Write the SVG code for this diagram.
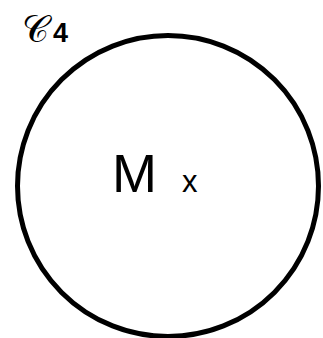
<svg xmlns="http://www.w3.org/2000/svg" width="323" height="338" viewBox="0 0 323 338">
<style>
.lbl{font-family:"Liberation Sans",Arial,sans-serif;fill:#000}
</style>
<rect width="323" height="338" fill="#fff"/>
<g id="set">
<circle cx="168" cy="186" r="150.5" fill="none" stroke="#000" stroke-width="5"/>
<text class="lbl" x="112" y="192" font-size="54">M</text>
<text class="lbl" x="182" y="192" font-size="31">x</text>
</g>
<g id="title">
<text x="22" y="42" font-family="DejaVu Sans,sans-serif" font-size="37" fill="#000">𝒞</text>
<text class="lbl" x="53" y="42" font-size="27" font-weight="bold">4</text>
</g>
<g id="connectors"/>
</svg>
